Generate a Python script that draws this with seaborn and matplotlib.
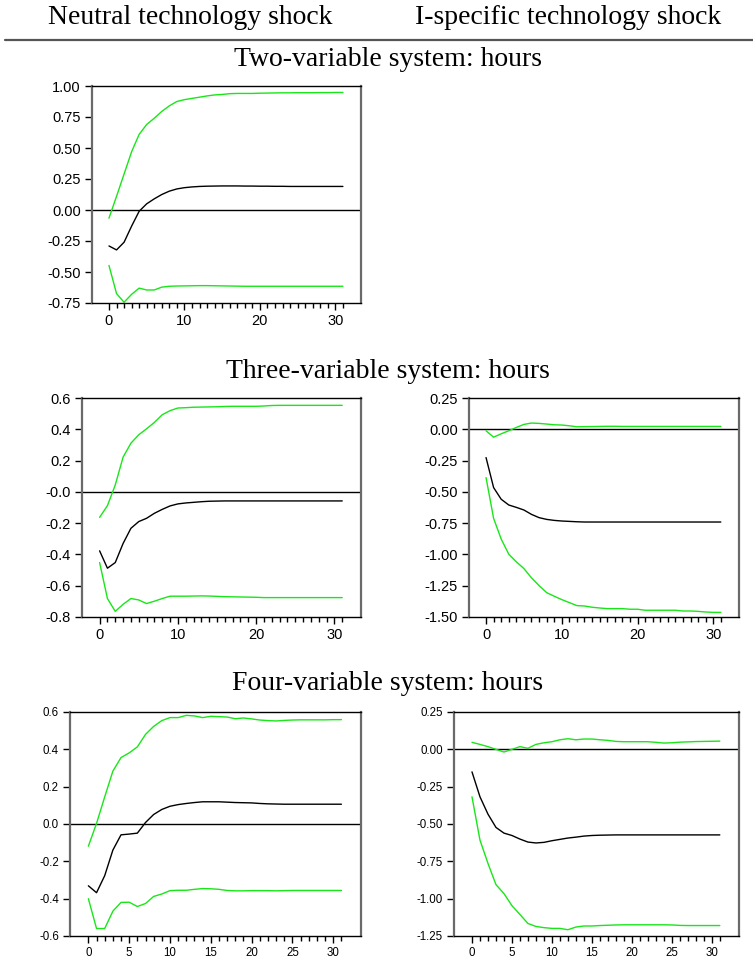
import matplotlib
matplotlib.use("Agg")
import matplotlib.pyplot as plt
from matplotlib.ticker import FixedLocator
import seaborn as sns

# ---------------- data ----------------
horizon = list(range(32))

column_titles = ["Neutral technology shock", "I-specific technology shock"]
row_titles = ["Two-variable system: hours", "Three-variable system: hours",
              "Four-variable system: hours"]

# Two-variable system, neutral shock
two_neu_upper = [-0.066, 0.11, 0.29, 0.47, 0.61, 0.69, 0.74, 0.795, 0.84, 0.875, 0.89, 0.90,
                 0.91, 0.92, 0.928, 0.932, 0.938, 0.94, 0.94, 0.94, 0.942, 0.943, 0.944, 0.945,
                 0.945, 0.946, 0.946, 0.946, 0.947, 0.947, 0.948, 0.948]
two_neu_mid = [-0.29, -0.322, -0.26, -0.13, -0.01, 0.05, 0.09, 0.125, 0.152, 0.17, 0.18, 0.186,
               0.19, 0.192, 0.193, 0.194, 0.194, 0.194, 0.193, 0.193, 0.192, 0.192, 0.191, 0.191,
               0.19, 0.19, 0.19, 0.19, 0.19, 0.19, 0.19, 0.19]
two_neu_lower = [-0.447, -0.674, -0.744, -0.68, -0.63, -0.645, -0.645, -0.622, -0.615, -0.613,
                 -0.612, -0.611, -0.61, -0.61, -0.611, -0.612, -0.613, -0.614, -0.615, -0.615,
                 -0.615, -0.615, -0.615, -0.615, -0.615, -0.615, -0.615, -0.615, -0.615, -0.615,
                 -0.615, -0.615]

# Three-variable system, neutral shock
three_neu_upper = [-0.163, -0.088, 0.044, 0.222, 0.311, 0.365, 0.403, 0.444, 0.493, 0.519, 0.536,
                   0.538, 0.541, 0.542, 0.543, 0.544, 0.546, 0.547, 0.547, 0.547, 0.547, 0.549,
                   0.552, 0.553, 0.553, 0.553, 0.553, 0.553, 0.553, 0.553, 0.553, 0.553]
three_neu_mid = [-0.377, -0.488, -0.452, -0.33, -0.233, -0.19, -0.169, -0.137, -0.112, -0.09,
                 -0.077, -0.071, -0.067, -0.063, -0.06, -0.059, -0.058, -0.058, -0.058, -0.058,
                 -0.058, -0.058, -0.058, -0.058, -0.058, -0.058, -0.058, -0.058, -0.058, -0.058,
                 -0.058, -0.058]
three_neu_lower = [-0.452, -0.682, -0.764, -0.719, -0.682, -0.691, -0.714, -0.699, -0.682, -0.667,
                   -0.667, -0.667, -0.666, -0.665, -0.666, -0.668, -0.67, -0.671, -0.672, -0.673,
                   -0.674, -0.676, -0.676, -0.676, -0.676, -0.676, -0.676, -0.676, -0.676, -0.676,
                   -0.676, -0.676]

# Three-variable system, I-specific shock
three_isp_upper = [-0.012, -0.063, -0.036, -0.012, 0.015, 0.039, 0.05, 0.047, 0.042, 0.036, 0.034,
                   0.028, 0.02, 0.021, 0.022, 0.023, 0.024, 0.024, 0.023, 0.023, 0.023, 0.023,
                   0.023, 0.023, 0.023, 0.023, 0.023, 0.023, 0.023, 0.023, 0.023, 0.023]
three_isp_mid = [-0.226, -0.466, -0.559, -0.605, -0.624, -0.645, -0.68, -0.706, -0.72, -0.728,
                 -0.733, -0.736, -0.739, -0.741, -0.741, -0.741, -0.741, -0.741, -0.741, -0.741,
                 -0.741, -0.741, -0.741, -0.741, -0.741, -0.741, -0.741, -0.741, -0.741, -0.741,
                 -0.741, -0.741]
three_isp_lower = [-0.386, -0.712, -0.877, -0.998, -1.059, -1.113, -1.187, -1.249, -1.305, -1.334,
                   -1.361, -1.385, -1.409, -1.412, -1.422, -1.428, -1.433, -1.433, -1.433, -1.438,
                   -1.438, -1.446, -1.446, -1.446, -1.446, -1.446, -1.452, -1.452, -1.455, -1.46,
                   -1.463, -1.463]

# Four-variable system, neutral shock
four_neu_upper = [-0.119, 0.003, 0.145, 0.283, 0.356, 0.381, 0.413, 0.48, 0.523, 0.554, 0.57,
                  0.57, 0.582, 0.579, 0.57, 0.577, 0.575, 0.573, 0.564, 0.568, 0.563, 0.557,
                  0.554, 0.552, 0.555, 0.557, 0.558, 0.558, 0.558, 0.558, 0.559, 0.559]
four_neu_mid = [-0.331, -0.368, -0.277, -0.14, -0.058, -0.054, -0.049, 0.008, 0.051, 0.078,
                0.095, 0.104, 0.11, 0.115, 0.119, 0.119, 0.119, 0.117, 0.115, 0.114, 0.113, 0.11,
                0.108, 0.107, 0.106, 0.106, 0.106, 0.106, 0.106, 0.106, 0.106, 0.106]
four_neu_lower = [-0.40, -0.56, -0.56, -0.467, -0.42, -0.419, -0.442, -0.426, -0.388, -0.375,
                  -0.357, -0.355, -0.355, -0.35, -0.346, -0.347, -0.35, -0.356, -0.358, -0.358,
                  -0.357, -0.357, -0.357, -0.358, -0.357, -0.356, -0.356, -0.356, -0.356, -0.356,
                  -0.356, -0.356]

# Four-variable system, I-specific shock
four_isp_upper = [0.047, 0.033, 0.018, 0.0, -0.018, 0.0, 0.018, 0.007, 0.033, 0.044, 0.051,
                  0.064, 0.071, 0.064, 0.069, 0.069, 0.064, 0.06, 0.053, 0.051, 0.051, 0.051,
                  0.051, 0.047, 0.042, 0.044, 0.048, 0.05, 0.052, 0.053, 0.054, 0.055]
four_isp_mid = [-0.151, -0.318, -0.434, -0.523, -0.561, -0.577, -0.601, -0.621, -0.627, -0.623,
                -0.612, -0.603, -0.594, -0.588, -0.581, -0.577, -0.575, -0.574, -0.573, -0.573,
                -0.573, -0.573, -0.573, -0.573, -0.573, -0.573, -0.573, -0.573, -0.573, -0.573,
                -0.573, -0.573]
four_isp_lower = [-0.318, -0.608, -0.764, -0.906, -0.966, -1.047, -1.106, -1.166, -1.186, -1.194,
                  -1.199, -1.199, -1.208, -1.19, -1.183, -1.183, -1.18, -1.178, -1.176, -1.175,
                  -1.175, -1.175, -1.175, -1.175, -1.175, -1.176, -1.179, -1.18, -1.18, -1.18,
                  -1.18, -1.18]

# tick values / labels
yt_two_neu = [-0.75, -0.5, -0.25, 0.0, 0.25, 0.5, 0.75, 1.0]
yl_two_neu = ["-0.75", "-0.50", "-0.25", "0.00", "0.25", "0.50", "0.75", "1.00"]
yt_three_neu = [-0.8, -0.6, -0.4, -0.2, 0.0, 0.2, 0.4, 0.6]
yl_three_neu = ["-0.8", "-0.6", "-0.4", "-0.2", "-0.0", "0.2", "0.4", "0.6"]
yt_three_isp = [-1.5, -1.25, -1.0, -0.75, -0.5, -0.25, 0.0, 0.25]
yl_three_isp = ["-1.50", "-1.25", "-1.00", "-0.75", "-0.50", "-0.25", "0.00", "0.25"]
yt_four_neu = [-0.6, -0.4, -0.2, 0.0, 0.2, 0.4, 0.6]
yl_four_neu = ["-0.6", "-0.4", "-0.2", "0.0", "0.2", "0.4", "0.6"]
yt_four_isp = [-1.25, -1.0, -0.75, -0.5, -0.25, 0.0, 0.25]
yl_four_isp = ["-1.25", "-1.00", "-0.75", "-0.50", "-0.25", "0.00", "0.25"]
xt_wide = [0, 10, 20, 30]
xt_fine = [0, 5, 10, 15, 20, 25, 30]

# ---------------- style ----------------
sns.set_theme(style="ticks")
plt.rcParams["font.family"] = ["Liberation Sans", "DejaVu Sans"]
plt.rcParams["axes.unicode_minus"] = False
plt.rcParams["text.color"] = "black"
plt.rcParams["xtick.color"] = "black"
plt.rcParams["ytick.color"] = "black"
plt.rcParams["xtick.labelcolor"] = "black"
plt.rcParams["ytick.labelcolor"] = "black"

W, H = 753, 964
fig = plt.figure(figsize=(W / 100, H / 100), dpi=100)
fig.patch.set_facecolor("white")

GREEN = "#19e619"
SERIF = ["Liberation Serif", "DejaVu Serif"]


def px_axes(l, r, t, b):
    return fig.add_axes([l / W, 1 - b / H, (r - l) / W, (b - t) / H])


def panel(ax, upper, mid, lower, yt, yl, xt, fs):
    ax.set_facecolor("white")
    ax.axhline(0, color="black", lw=1.0, zorder=1)
    sns.lineplot(x=horizon, y=upper, ax=ax, color=GREEN, lw=1.0, estimator=None)
    sns.lineplot(x=horizon, y=mid, ax=ax, color="black", lw=1.0, estimator=None)
    sns.lineplot(x=horizon, y=lower, ax=ax, color=GREEN, lw=1.0, estimator=None)
    ax.set_xlim(-2.25, 33.4)
    ax.set_ylim(yt[0], yt[-1])
    ax.set_yticks(yt)
    ax.set_yticklabels(yl, fontsize=fs, color="black")
    ax.set_xticks(xt)
    ax.set_xticklabels([str(v) for v in xt], fontsize=fs, color="black")
    ax.xaxis.set_minor_locator(FixedLocator(horizon))
    ax.tick_params(axis="x", which="major", direction="out", length=5, width=1,
                   color="black", labelcolor="black", pad=3)
    ax.tick_params(axis="x", which="minor", direction="out", length=3.5, width=1,
                   color="black")
    ax.tick_params(axis="y", which="major", direction="out", length=5, width=1,
                   color="black", labelcolor="black", pad=3)
    for s in ["top", "bottom"]:
        ax.spines[s].set_color("black")
        ax.spines[s].set_linewidth(1.0)
    for s in ["left", "right"]:
        ax.spines[s].set_color("#6a6a6a")
        ax.spines[s].set_linewidth(1.6)
    ax.set_xlabel("")
    ax.set_ylabel("")
    ax.grid(False)


ax1 = px_axes(92, 361, 86, 303)
panel(ax1, two_neu_upper, two_neu_mid, two_neu_lower, yt_two_neu, yl_two_neu, xt_wide, 10.5)

ax2 = px_axes(82, 361, 398, 617)
panel(ax2, three_neu_upper, three_neu_mid, three_neu_lower, yt_three_neu, yl_three_neu,
      xt_wide, 10.5)

ax3 = px_axes(469, 739, 398, 617)
panel(ax3, three_isp_upper, three_isp_mid, three_isp_lower, yt_three_isp, yl_three_isp,
      xt_wide, 10.5)

ax4 = px_axes(70, 361, 712, 936)
panel(ax4, four_neu_upper, four_neu_mid, four_neu_lower, yt_four_neu, yl_four_neu, xt_fine, 8.3)

ax5 = px_axes(454, 739, 712, 936)
panel(ax5, four_isp_upper, four_isp_mid, four_isp_lower, yt_four_isp, yl_four_isp, xt_fine, 8.3)

# ---------------- headings ----------------
fig.text(190.5 / W, 1 - 17 / H, column_titles[0], ha="center", va="center",
         fontsize=20, family=SERIF, color="black")
fig.text(568 / W, 1 - 17 / H, column_titles[1], ha="center", va="center",
         fontsize=20, family=SERIF, color="black")
fig.add_artist(plt.Line2D([5 / W, 1.0], [1 - 40 / H, 1 - 40 / H], color="#555555", lw=1.6,
                          transform=fig.transFigure))
fig.text(388 / W, 1 - 59 / H, row_titles[0], ha="center", va="center", fontsize=20,
         family=SERIF, color="black")
fig.text(388 / W, 1 - 371 / H, row_titles[1], ha="center", va="center", fontsize=20,
         family=SERIF, color="black")
fig.text(388 / W, 1 - 684 / H, row_titles[2], ha="center", va="center", fontsize=20,
         family=SERIF, color="black")

fig.savefig("out.png", dpi=100, facecolor="white")
